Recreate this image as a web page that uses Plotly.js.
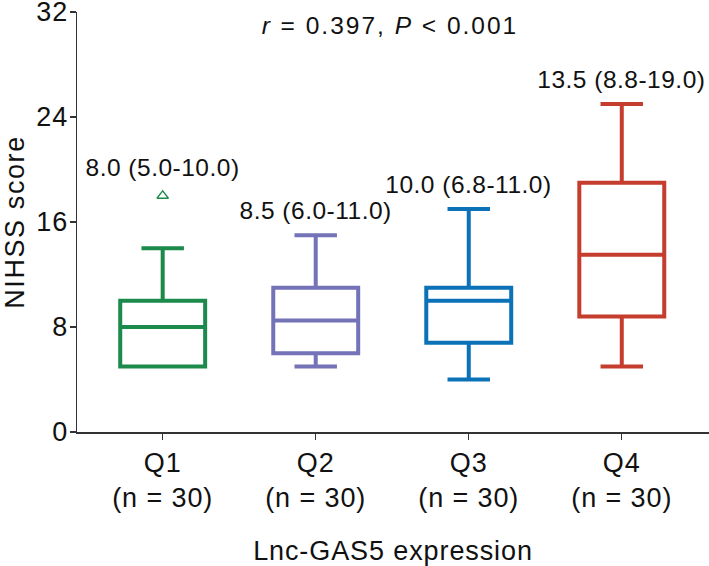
<!DOCTYPE html>
<html>
<head>
<meta charset="utf-8">
<script src="https://cdn.plot.ly/plotly-3.0.1.min.js"></script>
<style>
html,body{margin:0;padding:0;background:#fff;}
#chart{width:709px;height:566px;}
#chart .xtick text, #chart .ytick text { letter-spacing: 0.9px; }
#chart .annotation-text { letter-spacing: 0.5px; }
#chart .gtitle { letter-spacing: 2px; }
#chart .xtitle { letter-spacing: 0.9px; }
#chart .ytitle { letter-spacing: 1.6px; }
</style>
</head>
<body>
<div id="chart"></div>
<script>
var categories = ["Q1", "Q2", "Q3", "Q4"];
var tickLabels = ["Q1<br>(n = 30)", "Q2<br>(n = 30)", "Q3<br>(n = 30)", "Q4<br>(n = 30)"];
var q1Values = [5.0, 6.0, 6.8, 8.8];
var medianValues = [8.0, 8.5, 10.0, 13.5];
var q3Values = [10.0, 11.0, 11.0, 19.0];
var lowerWhisker = [5.0, 5.0, 4.0, 5.0];
var upperWhisker = [14.0, 15.0, 17.0, 25.0];
var outlierCategories = ["Q1"];
var outlierValues = [18.0];
var summaryLabels = ["8.0 (5.0-10.0)", "8.5 (6.0-11.0)", "10.0 (6.8-11.0)", "13.5 (8.8-19.0)"];
var colors = ["#1b8a4b", "#7473b8", "#0b72b8", "#c53d2d"];

var FONT = "Liberation Sans, Arial, Helvetica, sans-serif";
var traces = [];
categories.forEach(function (c, i) {
  traces.push({
    type: "box",
    x: [c],
    q1: [q1Values[i]],
    median: [medianValues[i]],
    q3: [q3Values[i]],
    lowerfence: [lowerWhisker[i]],
    upperfence: [upperWhisker[i]],
    boxpoints: false,
    width: 0.555,
    whiskerwidth: 0.5,
    fillcolor: "rgba(0,0,0,0)",
    line: {color: colors[i], width: 4},
    showlegend: false,
    hoverinfo: "skip"
  });
});
traces.push({
  type: "scatter",
  mode: "markers",
  x: outlierCategories,
  y: outlierValues,
  marker: {symbol: "triangle-up-open", size: 10, color: colors[0], line: {width: 1.3, color: colors[0]}},
  showlegend: false,
  hoverinfo: "skip"
});

var annotations = categories.map(function (c, i) {
  var top = upperWhisker[i];
  var shift = 9;
  outlierCategories.forEach(function (oc, j) {
    if (oc === c && outlierValues[j] > top) { top = outlierValues[j]; shift = 13; }
  });
  return {
    x: c, y: top, xref: "x", yref: "y",
    text: summaryLabels[i], showarrow: false,
    xanchor: "center", yanchor: "bottom", yshift: shift,
    font: {family: FONT, size: 24.5, color: "#111"}
  };
});

var layout = {
  width: 709, height: 566,
  margin: {l: 77, r: 0, t: 12, b: 134},
  paper_bgcolor: "#fff", plot_bgcolor: "#fff",
  title: {
    text: "<i>r</i> = 0.397, <i>P</i> &lt; 0.001",
    x: 0.55, xanchor: "center", xref: "container",
    y: 1 - 25 / 566, yanchor: "middle", yref: "container",
    font: {family: FONT, size: 24.5, color: "#111"}
  },
  xaxis: {
    type: "category",
    categoryarray: categories,
    tickvals: categories,
    ticktext: tickLabels,
    range: [-0.56, 3.57],
    showline: true, linecolor: "#333", linewidth: 1.5,
    ticks: "outside", ticklen: 6, tickcolor: "#333", tickwidth: 1.2,
    showgrid: false, zeroline: false,
    tickfont: {family: FONT, size: 27, color: "#111"},
    title: {text: "Lnc-GAS5 expression", font: {family: FONT, size: 27, color: "#111"}, standoff: 34},
    automargin: false
  },
  yaxis: {
    range: [0, 32],
    tickvals: [0, 8, 16, 24, 32],
    showline: true, linecolor: "#333", linewidth: 1.5,
    ticks: "outside", ticklen: 6, tickcolor: "#333", tickwidth: 1.2,
    ticklabeloverflow: "allow",
    ticklabelstandoff: -4,
    showgrid: false, zeroline: false,
    tickfont: {family: FONT, size: 27, color: "#111"},
    title: {text: "NIHSS score", font: {family: FONT, size: 27, color: "#111"}, standoff: 13},
    automargin: false
  },
  boxmode: "overlay",
  annotations: annotations
};

Plotly.newPlot("chart", traces, layout, {staticPlot: true, displayModeBar: false});
</script>
</body>
</html>
